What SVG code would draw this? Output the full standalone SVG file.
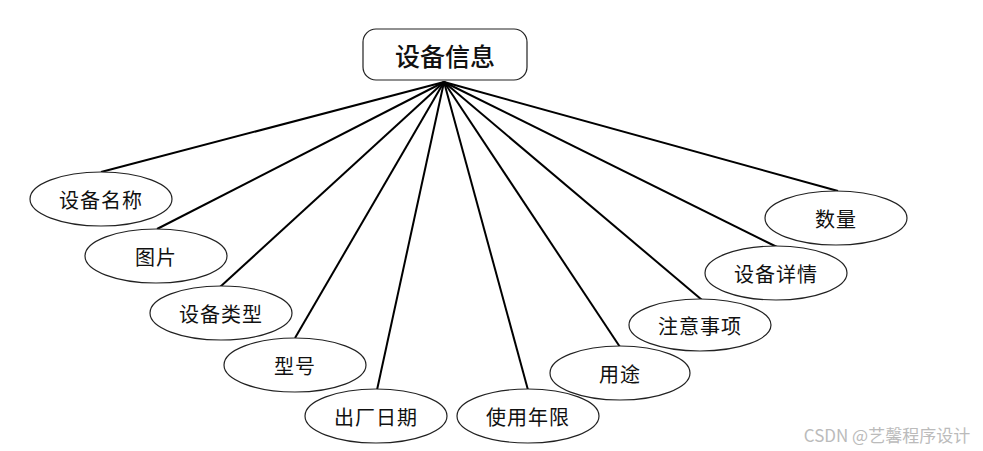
<svg xmlns="http://www.w3.org/2000/svg" width="983" height="451" viewBox="0 0 983 451">
<style>
.n ellipse{fill:#fff;stroke:#222;stroke-width:1.2}
.t{font-family:"Noto Sans CJK SC","Noto Sans",sans-serif;font-size:20px;letter-spacing:1px;fill:#111;text-anchor:middle;dominant-baseline:central}
.c line{stroke:#000;stroke-width:2}
</style>
<rect width="983" height="451" fill="#fff"/>
<g class="c">
<line x1="444" y1="82" x2="101" y2="172"/>
<line x1="444" y1="82" x2="157" y2="229"/>
<line x1="444" y1="82" x2="220" y2="287"/>
<line x1="444" y1="82" x2="295" y2="338"/>
<line x1="444" y1="82" x2="377" y2="390"/>
<line x1="444" y1="82" x2="528" y2="390"/>
<line x1="444" y1="82" x2="620" y2="347"/>
<line x1="444" y1="82" x2="702" y2="300"/>
<line x1="444" y1="82" x2="777" y2="247"/>
<line x1="444" y1="82" x2="838" y2="191"/>
</g>
<g id="main">
<rect x="363" y="29" width="164" height="51" rx="13" fill="#fff" stroke="#222" stroke-width="1.2"/>
<text x="445" y="55" class="t" style="font-size:25px;font-weight:500;letter-spacing:0">设备信息</text>
</g>
<g id="n1" class="n"><ellipse cx="101" cy="199" rx="71" ry="27"/><text x="101" y="199" class="t">设备名称</text></g>
<g id="n2" class="n"><ellipse cx="156" cy="256" rx="71" ry="27"/><text x="156" y="256" class="t">图片</text></g>
<g id="n3" class="n"><ellipse cx="221" cy="313" rx="71" ry="27"/><text x="221" y="313" class="t">设备类型</text></g>
<g id="n4" class="n"><ellipse cx="295" cy="365" rx="71" ry="27"/><text x="295" y="365" class="t">型号</text></g>
<g id="n5" class="n"><ellipse cx="376" cy="416" rx="71" ry="27"/><text x="376" y="416" class="t">出厂日期</text></g>
<g id="n6" class="n"><ellipse cx="528" cy="416" rx="71" ry="27"/><text x="528" y="416" class="t">使用年限</text></g>
<g id="n7" class="n"><ellipse cx="620" cy="373" rx="70" ry="27"/><text x="620" y="373" class="t">用途</text></g>
<g id="n8" class="n"><ellipse cx="700" cy="325" rx="71" ry="26"/><text x="700" y="325" class="t">注意事项</text></g>
<g id="n9" class="n"><ellipse cx="776" cy="273" rx="71" ry="27"/><text x="776" y="273" class="t">设备详情</text></g>
<g id="n10" class="n"><ellipse cx="836" cy="218" rx="71" ry="27"/><text x="836" y="218" class="t">数量</text></g>
<text x="887" y="434" style="font-family:'Noto Sans CJK SC','Noto Sans',sans-serif;font-size:17px;fill:#bbb;text-anchor:middle;dominant-baseline:central">CSDN @艺馨程序设计</text>
</svg>
